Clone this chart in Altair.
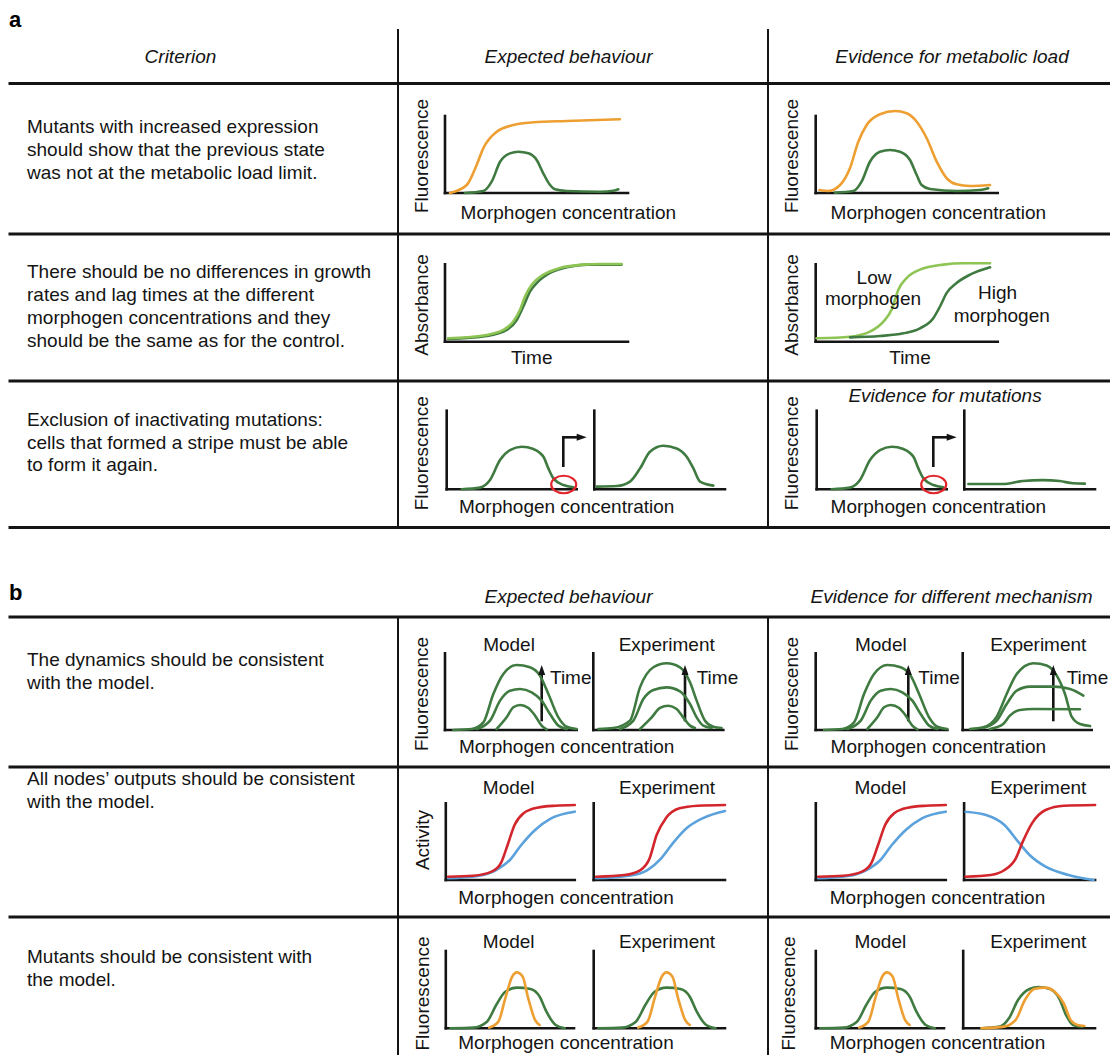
import altair as alt
import pandas as pd

# ---------------- curve shapes: (x %, y %) of each small plot's axes ----------------
A1_EXP_ORANGE = [(2.7, 0), (11.9, 10.4), (17.3, 36.4), (20.9, 58), (28.3, 79.6), (37.3, 88.3),
                 (48.3, 91.8), (66.5, 93.5), (95.6, 95.7)]
A1_EXP_GREEN = [(10.9, 0), (20.9, 2.6), (25.5, 14.7), (30.1, 40.6), (35.5, 51.5), (40.1, 53.6),
                (45.6, 51.5), (50.1, 42.9), (53.7, 25.6), (57.4, 10.4), (60.1, 4.8), (66.5, 2.6),
                (84.7, 1.7), (92, 3), (94.7, 4.8)]
A1_EVI_ORANGE = [(2, 3.9), (6.9, 2.6), (13.4, 10.4), (18.8, 32.1), (23.4, 66.6), (28, 88.3),
                 (35.3, 102.2), (43.6, 106.5), (50, 103.5), (55.5, 92.6), (61, 71.1), (66.5, 40.7),
                 (72, 19.1), (77.4, 11.3), (84.8, 9.1), (95.8, 10.4)]
A1_EVI_GREEN = [(10.6, 0.5), (20.7, 2.5), (25.2, 14.7), (29.8, 40.6), (35.3, 53.6), (40.8, 55.8),
                (46.3, 53.6), (51.8, 42.9), (55.5, 23.4), (58.2, 10.4), (62.8, 5.2), (77.5, 2.6),
                (90.3, 3.9), (94.8, 6.1)]

A2_EXP_LIGHT = [(1.8, 4.4), (11.8, 5.7), (22.8, 8.7), (31.9, 15.2), (37.3, 26), (41, 41.2),
                (43.7, 58.5), (47.4, 73.6), (53.8, 86.6), (62.8, 95.2), (75.6, 99.6), (84.7, 100.4),
                (96.5, 100.4)]
A2_EXP_DARK = [(1.8, 3.5), (22.8, 7.4), (33.7, 15.2), (39.2, 28.1), (42.8, 45.5), (46.5, 65),
               (50.1, 75.8), (57.4, 88.8), (66.5, 96.1), (77.5, 99.6), (96.5, 99.6)]
A2_EVI_LIGHT = [(0.5, 4.4), (18.9, 6.5), (29.8, 13), (37.2, 26), (41.7, 41.2), (45.4, 67.2),
                (50, 82.3), (57.3, 93.1), (70.1, 99.6), (81.1, 101.4), (95.8, 101.4)]
A2_EVI_DARK = [(18.9, 5.6), (35.3, 7.4), (48.1, 10.8), (57.3, 17.3), (64.6, 30.3), (68.3, 45.5),
               (71.9, 62.8), (77.4, 75.8), (84.8, 86.6), (95.8, 96.1)]

A3_STRIPE = [(11.5, 0), (25.6, 2.1), (33.3, 11.8), (41, 37.2), (48.7, 49.9), (57.7, 54.2),
             (66.7, 51.2), (74.4, 41.4), (78.2, 26.6), (82.1, 13.9), (89.8, 5.4), (97.4, 2.5)]
A3_AGAIN = [(1.8, 3.4), (17.1, 4.2), (27.3, 9.8), (35, 26.6), (42.6, 47.8), (52.8, 55.4),
            (63, 52), (70.7, 41.4), (75.8, 26.6), (80.9, 9.8), (91.1, 4.7)]
A3_LOST = [(3.1, 6.7), (29.1, 6.7), (44.7, 10.5), (60, 11.7), (73, 10.5), (83.2, 7.6), (92.2, 7.2)]

B1_MODEL_HIGH = [(6.3, 0), (20.2, 1.3), (29.1, 10), (36.7, 47), (44.3, 73.1), (54.4, 84.8),
                 (64.5, 81.8), (72.1, 70.9), (78.5, 47), (86.1, 16.5), (92.4, 4.3), (99.9, 1.3)]
B1_MODEL_MID = [(24.1, 1.3), (34.2, 12.2), (41.8, 38.3), (49.4, 51.3), (57, 53.5), (65.8, 49.1),
                (73.4, 38.3), (79.7, 20.9), (86.1, 5.7), (92.4, 1.3)]
B1_MODEL_LOW = [(39.2, 1.3), (46.8, 16.5), (51.9, 29.6), (57, 32.6), (63.3, 28.7), (68.4, 18.7),
                (73.4, 5.7), (77.2, 0.9)]
B1_EXP_HIGH = [(3.8, 1.3), (15.4, 2.6), (28.2, 12.2), (35.9, 55.6), (46.2, 81.8), (56.4, 87),
               (66.7, 81.8), (74.4, 62.2), (79.5, 38.3), (85.9, 12.2), (92.3, 4.3), (98.7, 2.6)]
B1_EXP_MID = [(20.5, 1.3), (30.8, 12.2), (38.5, 40.4), (46.2, 52.2), (56.4, 55.6), (66.7, 50.4),
              (74.4, 33.9), (79.5, 16.5), (84.6, 5.7), (91, 2.6)]
B1_EXP_LOW = [(35.9, 1.3), (44.9, 16.5), (51.3, 28.7), (57.7, 31.7), (64.1, 27.4), (69.2, 16.5),
              (74.4, 5.7), (78.2, 2.6)]
B1_EVI_PEAK = [(5.7, 1.3), (16, 3.5), (26.4, 17.4), (34.1, 47), (41.9, 73.1), (54.8, 87),
               (65.1, 84), (72.9, 70.9), (79.3, 47), (84.5, 17.4), (90.9, 7.8), (98.7, 5.2)]
B1_EVI_MID = [(16, 2.6), (26.4, 12.2), (34.1, 33.9), (41.9, 51.3), (52.2, 56.5), (70.3, 56.5),
              (83.2, 53.5), (93.5, 44.8)]
B1_EVI_LOW = [(21.1, 1.3), (31.4, 7.8), (36.6, 18.7), (44.3, 26.1), (54.6, 27.4), (90.9, 27)]

B2_MODEL_RED = [(1.8, 4.3), (21.3, 5.6), (35.5, 10.9), (42.6, 21.7), (47.9, 45.6), (53.3, 71.7),
                (60.3, 87), (71, 94.3), (85.2, 96.9), (100, 97.8)]
B2_MODEL_BLUE = [(1.8, 2.2), (24.8, 5.2), (39, 13), (49.7, 26.1), (58.5, 45.6), (69.2, 65.2),
                 (81.6, 80.4), (100, 89.1)]
B2_EXP_RED = [(1.8, 4.3), (23.4, 6.5), (35.6, 13), (42.6, 28.3), (47.9, 58.7), (54.9, 80.4),
              (65.3, 93.4), (79.3, 96.9), (100, 97.8)]
B2_EXP_BLUE = [(1.8, 2.2), (26.9, 5.6), (40.9, 13), (51.4, 28.3), (60.2, 47.8), (70.7, 67.4),
               (82.9, 80.4), (100, 90)]
B2_EVI_RED = [(1.1, 4.3), (20.3, 6.5), (30.8, 13), (39.5, 28.3), (44.8, 50), (51.8, 73.9),
              (62.2, 91.3), (76.2, 96.9), (100, 97.8)]
B2_EVI_BLUE = [(1.1, 89), (16.8, 84.7), (30.8, 71.7), (41.2, 50), (50, 32.6), (62.2, 17.4),
               (79.7, 6.5), (98.9, 0)]

B3_MODEL_GREEN = [(3.6, 0), (21.4, 0.9), (32.1, 8.6), (39.3, 30.1), (46.4, 47.3), (55.4, 52.6),
                  (66.1, 50.8), (73.2, 40.9), (78.5, 21.5), (85.7, 4.3), (92.8, 0)]
B3_MODEL_ORANGE = [(33.9, 0.9), (41, 8.6), (46.4, 38.7), (51.8, 66.7), (55.4, 72.3), (60, 66.7),
                   (64.3, 38.7), (69.7, 10.6), (73.2, 4.3)]
B3_EVI_GREEN = [(13.9, 0), (27.7, 2.2), (34.7, 12.9), (41.6, 36.6), (50.3, 50.8), (57.2, 53.4),
                (65.9, 50.8), (72.8, 38.7), (78, 17.2), (83.3, 4.3), (90.2, 2.2)]
B3_EVI_ORANGE = [(13.9, 0), (31.2, 2.2), (39.8, 10.8), (46.8, 36.6), (53.8, 50.8), (62.4, 52.6),
                 (69.4, 47.3), (76.3, 32.3), (81.5, 10.8), (86.7, 4.3), (91.9, 3)]

# ---------------- texts ----------------
ROW_A1 = ["Mutants with increased expression", "should show that the previous state",
          "was not at the metabolic load limit."]
ROW_A2 = ["There should be no differences in growth", "rates and lag times at the different",
          "morphogen concentrations and they", "should be the same as for the control."]
ROW_A3 = ["Exclusion of inactivating mutations:", "cells that formed a stripe must be able",
          "to form it again."]
ROW_B1 = ["The dynamics should be consistent", "with the model."]
ROW_B2 = ["All nodes\u2019 outputs should be consistent", "with the model."]
ROW_B3 = ["Mutants should be consistent with", "the model."]

# ---------------- colours ----------------
GREEN = "#3f7b41"
LIGHT = "#8dc453"
ORANGE = "#ee9f32"
RED = "#d3262c"
BLUE = "#5ba2dc"
INK = "#141414"

# ---------------- layout of small plots: origin x, origin y, axis width, axis height --------
PANELS = {
    "a1e": (445.0, 193.0, 183.0, 77.0), "a1v": (815.7, 193.0, 182.0, 77.0),
    "a2e": (445.0, 341.7, 183.0, 77.4), "a2v": (815.7, 341.7, 182.0, 77.4),
    "a3e1": (446.7, 489.3, 130.0, 78.6), "a3e2": (594.3, 489.3, 130.7, 78.6),
    "a3v1": (816.7, 489.3, 130.0, 78.6), "a3v2": (964.3, 489.3, 130.7, 78.6),
    "b1e1": (445.0, 730.0, 131.7, 76.7), "b1e2": (593.3, 730.0, 130.0, 76.7),
    "b1v1": (815.7, 730.0, 131.7, 76.7), "b1v2": (962.7, 730.0, 129.0, 76.7),
    "b2e1": (445.8, 880.0, 129.0, 76.7), "b2e2": (593.7, 880.0, 131.3, 76.7),
    "b2v1": (815.8, 880.0, 130.0, 76.7), "b2v2": (964.1, 880.0, 131.0, 76.7),
    "b3e1": (445.8, 1028.3, 128.2, 77.3), "b3e2": (593.7, 1028.3, 131.3, 77.3),
    "b3v1": (815.8, 1028.3, 128.2, 77.3), "b3v2": (963.2, 1028.3, 131.8, 77.3),
}

CURVES = [
    ("a1e", GREEN, A1_EXP_GREEN), ("a1e", ORANGE, A1_EXP_ORANGE),
    ("a1v", GREEN, A1_EVI_GREEN), ("a1v", ORANGE, A1_EVI_ORANGE),
    ("a2e", GREEN, A2_EXP_DARK), ("a2e", LIGHT, A2_EXP_LIGHT),
    ("a2v", LIGHT, A2_EVI_LIGHT), ("a2v", GREEN, A2_EVI_DARK),
    ("a3e1", GREEN, A3_STRIPE), ("a3e2", GREEN, A3_AGAIN),
    ("a3v1", GREEN, A3_STRIPE), ("a3v2", GREEN, A3_LOST),
    ("b1e1", GREEN, B1_MODEL_HIGH), ("b1e1", GREEN, B1_MODEL_MID), ("b1e1", GREEN, B1_MODEL_LOW),
    ("b1e2", GREEN, B1_EXP_HIGH), ("b1e2", GREEN, B1_EXP_MID), ("b1e2", GREEN, B1_EXP_LOW),
    ("b1v1", GREEN, B1_MODEL_HIGH), ("b1v1", GREEN, B1_MODEL_MID), ("b1v1", GREEN, B1_MODEL_LOW),
    ("b1v2", GREEN, B1_EVI_PEAK), ("b1v2", GREEN, B1_EVI_MID), ("b1v2", GREEN, B1_EVI_LOW),
    ("b2e1", BLUE, B2_MODEL_BLUE), ("b2e1", RED, B2_MODEL_RED),
    ("b2e2", BLUE, B2_EXP_BLUE), ("b2e2", RED, B2_EXP_RED),
    ("b2v1", BLUE, B2_MODEL_BLUE), ("b2v1", RED, B2_MODEL_RED),
    ("b2v2", BLUE, B2_EVI_BLUE), ("b2v2", RED, B2_EVI_RED),
    ("b3e1", GREEN, B3_MODEL_GREEN), ("b3e1", ORANGE, B3_MODEL_ORANGE),
    ("b3e2", GREEN, B3_MODEL_GREEN), ("b3e2", ORANGE, B3_MODEL_ORANGE),
    ("b3v1", GREEN, B3_MODEL_GREEN), ("b3v1", ORANGE, B3_MODEL_ORANGE),
    ("b3v2", GREEN, B3_EVI_GREEN), ("b3v2", ORANGE, B3_EVI_ORANGE),
]

# ---------------- build tables ----------------
rows = []
for k, (pname, col, pts) in enumerate(CURVES):
    ox, oy, w, h = PANELS[pname]
    for i, (u, v) in enumerate(pts):
        rows.append({"id": f"c{k:03d}", "i": i, "x": ox + u / 100 * w, "y": oy - v / 100 * h, "c": col})
curves_df = pd.DataFrame(rows)

rules = []
# table lines
for yy in [83.5, 234.0, 381.0, 527.5, 617.0, 767.0, 917.0]:
    rules.append({"x": 10, "y": yy, "x2": 1110, "y2": yy, "sw": 3.0, "c": INK})
for xx in [398.0, 768.0]:
    rules.append({"x": xx, "y": 30, "x2": xx, "y2": 527.5, "sw": 2.0, "c": INK})
    rules.append({"x": xx, "y": 617, "x2": xx, "y2": 1056, "sw": 2.0, "c": INK})
# small plot axes
for pname, (ox, oy, w, h) in PANELS.items():
    rules.append({"x": ox, "y": oy - h, "x2": ox, "y2": oy, "sw": 2.6, "c": INK})
    rules.append({"x": ox, "y": oy, "x2": ox + w, "y2": oy, "sw": 2.6, "c": INK})
# time arrows (b1)
ARROW_UP_X = [541.7, 685.0, 908.3, 1053.3]
for ax in ARROW_UP_X:
    rules.append({"x": ax, "y": 720, "x2": ax, "y2": 672, "sw": 2.6, "c": INK})
# re-plating arrows (a3)
ARROW_BENT_X = [563.3, 933.3]
for ax in ARROW_BENT_X:
    rules.append({"x": ax, "y": 465.7, "x2": ax, "y2": 437.3, "sw": 2.6, "c": INK})
    rules.append({"x": ax, "y": 437.3, "x2": ax + 15, "y2": 437.3, "sw": 2.6, "c": INK})
rules_df = pd.DataFrame(rules)

heads_up_df = pd.DataFrame({"x": ARROW_UP_X, "y": [670.0] * 4})
heads_right_df = pd.DataFrame({"x": [a + 18.4 for a in ARROW_BENT_X], "y": [437.3] * 2})
circles_df = pd.DataFrame({"x": [563.7, 933.7], "y": [484.5, 484.5]})

# body text
body = []
for lines, ys0 in [(ROW_A1, [126.7, 150, 172.7]), (ROW_A2, [271.7, 295, 318.3, 340.7]),
                   (ROW_A3, [420, 442.7, 465]), (ROW_B1, [660, 683]),
                   (ROW_B2, [779, 802]), (ROW_B3, [957, 980])]:
    for t, yy in zip(lines, ys0):
        body.append({"t": t, "x": 27, "y": yy})
body_df = pd.DataFrame(body)

MC = "Morphogen concentration"
labels = [
    ("Fluorescence", 421.7, 156, 270), (MC, 568.3, 213, 0),
    ("Fluorescence", 791.7, 156, 270), (MC, 938.3, 213, 0),
    ("Absorbance", 421.7, 305, 270), ("Time", 531.7, 358.3, 0),
    ("Absorbance", 791.7, 305, 270), ("Time", 910, 358.3, 0),
    ("Low", 874, 278.3, 0), ("morphogen", 873, 299, 0),
    ("High", 997.5, 293.3, 0), ("morphogen", 1001.7, 316, 0),
    ("Fluorescence", 421.7, 453.3, 270), (MC, 566.7, 506.7, 0),
    ("Fluorescence", 791.7, 453.3, 270), (MC, 938.3, 506.7, 0),
    ("Model", 509, 645, 0), ("Experiment", 666.7, 645, 0),
    ("Model", 880.8, 645, 0), ("Experiment", 1038.3, 645, 0),
    ("Fluorescence", 421.7, 694, 270), ("Fluorescence", 791.7, 694, 270),
    (MC, 566.7, 746.7, 0), (MC, 938.3, 746.7, 0),
    ("Model", 508.7, 788.3, 0), ("Experiment", 667, 788.3, 0),
    ("Model", 880.3, 788.3, 0), ("Experiment", 1038.3, 788.3, 0),
    ("Activity", 422.9, 840, 270), (MC, 566, 898.3, 0), (MC, 937.5, 898.3, 0),
    ("Model", 508.7, 941.7, 0), ("Experiment", 667, 941.7, 0),
    ("Model", 880.3, 941.7, 0), ("Experiment", 1038.3, 941.7, 0),
    ("Fluorescence", 422.9, 993.5, 270), ("Fluorescence", 789.2, 993.5, 270),
    (MC, 566, 1043, 0), (MC, 937.5, 1043, 0),
]
labels_df = pd.DataFrame(labels, columns=["t", "x", "y", "a"])
time_df = pd.DataFrame({"t": ["Time"] * 4, "x": [550, 696.7, 918.3, 1066.7], "y": [678.3] * 4})
italic_df = pd.DataFrame([
    ("Criterion", 180.5, 57), ("Expected behaviour", 568.5, 57),
    ("Evidence for metabolic load", 952, 57), ("Evidence for mutations", 945, 395.7),
    ("Expected behaviour", 568.5, 597), ("Evidence for different mechanism", 951.5, 597),
], columns=["t", "x", "y"])
bold_df = pd.DataFrame([("a", 9, 20), ("b", 9, 593)], columns=["t", "x", "y"])

# ---------------- chart ----------------
xs = alt.Scale(domain=[8, 1110], nice=False, zero=False)
ys = alt.Scale(domain=[8, 1055], nice=False, zero=False, reverse=True)


def X():
    return alt.X("x:Q", scale=xs, axis=None)


def Y():
    return alt.Y("y:Q", scale=ys, axis=None)


FONT = "Liberation Sans"

rule_layer = alt.Chart(rules_df).mark_rule(strokeCap="square").encode(
    x=X(), y=Y(), x2="x2:Q", y2="y2:Q",
    strokeWidth=alt.StrokeWidth("sw:Q", scale=None),
    color=alt.Color("c:N", scale=None),
)
curve_layer = alt.Chart(curves_df).mark_line(interpolate="monotone", strokeWidth=2.6, strokeCap="round").encode(
    x=X(), y=Y(), detail="id:N", order="i:Q", color=alt.Color("c:N", scale=None),
)
up_layer = alt.Chart(heads_up_df).mark_point(
    shape="M0,-1L0.7,1L-0.7,1Z", filled=True, fill=INK, strokeWidth=0, size=100, opacity=1
).encode(x=X(), y=Y())
right_layer = alt.Chart(heads_right_df).mark_point(
    shape="M1,0L-1,-0.7L-1,0.7Z", filled=True, fill=INK, strokeWidth=0, size=100, opacity=1
).encode(x=X(), y=Y())
circle_layer = alt.Chart(circles_df).mark_point(
    shape="M-1,0C-1,-0.39,-0.55,-0.7,0,-0.7C0.55,-0.7,1,-0.39,1,0C1,0.39,0.55,0.7,0,0.7C-0.55,0.7,-1,0.39,-1,0Z",
    filled=False, stroke="#e0262b", strokeWidth=2.2, size=625, opacity=1
).encode(x=X(), y=Y())
body_layer = alt.Chart(body_df).mark_text(
    font=FONT, fontSize=19, align="left", baseline="middle", color=INK
).encode(x=X(), y=Y(), text="t:N")
label_layer = alt.Chart(labels_df).mark_text(
    font=FONT, fontSize=19, align="center", baseline="middle", color=INK
).encode(x=X(), y=Y(), text="t:N", angle=alt.Angle("a:Q", scale=None))
time_layer = alt.Chart(time_df).mark_text(
    font=FONT, fontSize=19, align="left", baseline="middle", color=INK
).encode(x=X(), y=Y(), text="t:N")
italic_layer = alt.Chart(italic_df).mark_text(
    font=FONT, fontSize=19, fontStyle="italic", align="center", baseline="middle", color=INK
).encode(x=X(), y=Y(), text="t:N")
bold_layer = alt.Chart(bold_df).mark_text(
    font=FONT, fontSize=22, fontWeight="bold", align="left", baseline="middle", color="#000000"
).encode(x=X(), y=Y(), text="t:N")

chart = alt.layer(
    rule_layer, curve_layer, up_layer, right_layer, circle_layer,
    body_layer, label_layer, time_layer, italic_layer, bold_layer,
).properties(
    width=1102, height=1047, padding=0, autosize=alt.AutoSizeParams(type="none")
).configure_view(stroke=None)

chart.save("out.html", embed_options={"renderer": "svg", "actions": False})
